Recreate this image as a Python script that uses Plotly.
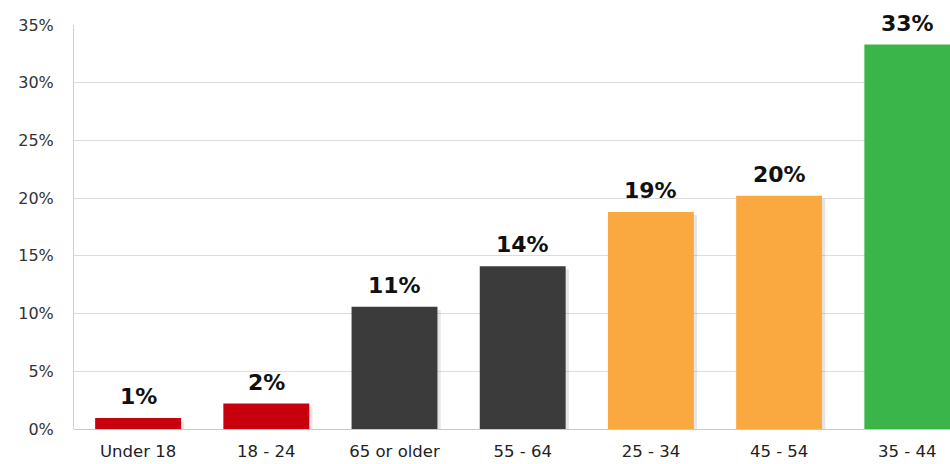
import plotly.graph_objects as go

# Share of respondents by age group
age_groups = ["Under 18", "18 - 24", "65 or older", "55 - 64", "25 - 34", "45 - 54", "35 - 44"]
share_pct = [0.95, 2.2, 10.6, 14.1, 18.8, 20.2, 33.3]
bar_colors = ["#C8000E", "#C8000E", "#3B3B3B", "#3B3B3B", "#F9A940", "#F9A940", "#3AB54A"]
y_ticks = [0, 5, 10, 15, 20, 25, 30, 35]

BAR_W = 0.67
FONT = "DejaVu Sans"

fig = go.Figure()

# soft drop shadow behind each bar, nudged right and down
fig.add_trace(go.Bar(
    x=age_groups,
    y=[v - 0.15 for v in share_pct],
    base=-0.12,
    width=BAR_W,
    offset=-BAR_W / 2 + 0.025,
    marker=dict(color="rgba(70,70,90,0.14)", line=dict(width=0)),
    hoverinfo="skip",
))

fig.add_trace(go.Bar(
    x=age_groups,
    y=share_pct,
    width=BAR_W,
    offset=-BAR_W / 2,
    marker=dict(color=bar_colors, line=dict(width=0)),
    hoverinfo="skip",
))

# value labels above the bars
for cat, val in zip(age_groups, share_pct):
    fig.add_annotation(
        x=cat, y=val, text=f"{val:.0f}%",
        showarrow=False, yanchor="bottom", yshift=7,
        font=dict(family=FONT, size=22, color="#111111", weight="bold"),
    )

fig.update_layout(
    width=950,
    height=464,
    margin=dict(l=74, r=0, t=25, b=35),
    paper_bgcolor="white",
    plot_bgcolor="white",
    showlegend=False,
    barmode="overlay",
    font=dict(family=FONT, size=16, color="#333333"),
)

fig.update_xaxes(
    range=[-0.5, 6.333],
    showgrid=False,
    showline=False,
    ticks="",
    ticklabelstandoff=10,
    tickfont=dict(family=FONT, size=16.5, color="#222222"),
)

fig.update_yaxes(
    range=[0, 35],
    tickvals=y_ticks,
    ticktext=[f"{v}%" for v in y_ticks],
    showgrid=True,
    gridcolor="#DCDCDC",
    gridwidth=1,
    showline=True,
    linecolor="#D0D0D0",
    linewidth=1,
    zeroline=True,
    zerolinecolor="#C8C8C8",
    zerolinewidth=1,
    ticks="",
    ticklabelstandoff=16,
    tickfont=dict(family=FONT, size=16, color="#333333"),
)

fig.write_html("out.html")
